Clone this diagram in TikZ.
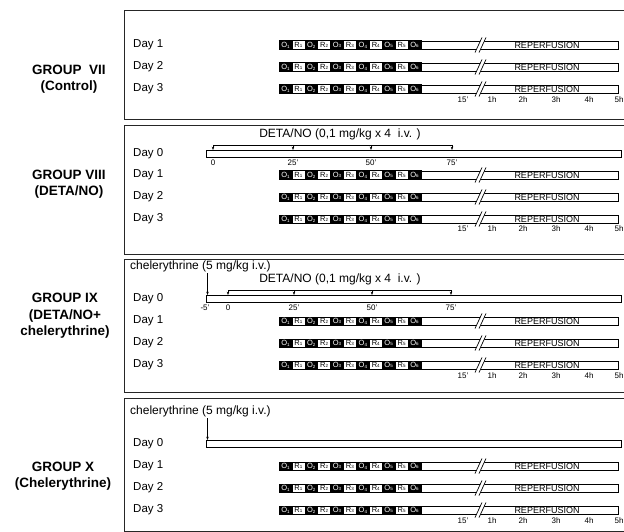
\documentclass[tikz,border=0pt]{standalone}
\usepackage{fontspec}
\setmainfont{Liberation Sans}
\usetikzlibrary{arrows.meta}
\tikzset{
 panel/.style={draw=black!85, line width=0.9pt},
 daylab/.style={anchor=west, font=\fontsize{11.5}{12}\selectfont, inner sep=0pt},
 grouplab/.style={align=center, font=\bfseries\fontsize{13.5}{16.5}\selectfont, inner sep=0pt},
 cellbase/.style={draw=black, minimum width=12.9pt, minimum height=8.5pt, inner sep=0pt, line width=0.5pt, font=\fontsize{7.5}{7}\selectfont},
 ocell/.style={cellbase, fill=black, text=white},
 rcell/.style={cellbase, fill=white, text=black},
 barbox/.style={draw, line width=0.8pt, minimum height=8pt, inner sep=0pt, anchor=west},
 reptext/.style={font=\fontsize{9}{9}\selectfont, inner sep=0pt},
 ticklab/.style={font=\fontsize{8}{8}\selectfont, inner sep=0pt},
 doselab/.style={font=\fontsize{12}{12}\selectfont, inner sep=0pt},
 dosearrow/.style={-{Stealth[length=3.5pt,width=2.5pt]}, line width=0.6pt},
 breakline/.style={line width=0.7pt},
}
\newcommand\cellsub[1]{\raisebox{-0.8pt}{\fontsize{4.5}{4}\selectfont #1}}
\newcommand\orrow[2]{%
 \foreach \i in {0,...,10}{%
   \pgfmathsetmacro\cx{279+6.45+\i*12.9}
   \ifodd\i
     \pgfmathtruncatemacro\k{(\i+1)/2}
     \node[rcell] (#2c\i) at (\cx,#1) {R\cellsub{\k}};
   \else
     \pgfmathtruncatemacro\k{\i/2+1}
     \node[ocell] (#2c\i) at (\cx,#1) {O\cellsub{\k}};
   \fi
 }
 \node[barbox, minimum width=197pt] (#2bar) at (#2c10.east) {};
 \pgfmathsetmacro\ya{#1+7.5}\pgfmathsetmacro\yb{#1-7.5}
 \fill[white] (475,\ya) -- (482,\yb) -- (486,\yb) -- (479,\ya) -- cycle;
 \draw[breakline] (475,\ya) -- (482,\yb) (479,\ya) -- (486,\yb);
 \node[reptext] (#2rep) at (547,#1) {REPERFUSION};
}
\newcommand\timeticks[2]{%
 \node[ticklab] (#2t15) at (463,#1) {15'};
 \node[ticklab] (#2t1) at (492,#1) {1h};
 \node[ticklab] (#2t2) at (523,#1) {2h};
 \node[ticklab] (#2t3) at (556,#1) {3h};
 \node[ticklab] (#2t4) at (589,#1) {4h};
 \node[ticklab] (#2t5) at (619,#1) {5h};
}
\begin{document}
\begin{tikzpicture}[x=1pt,y=-1pt]
\useasboundingbox (0,0) rectangle (624,532);
\clip (0,0) rectangle (624,532);
\fill[white] (0,0) rectangle (624,532);

% panels
\draw[panel] (630,10) -- (124,10) -- (124,119) -- (630,119);
\draw[panel] (630,125) -- (124,125) -- (124,254) -- (630,254);
\draw[panel] (630,259) -- (124,259) -- (124,392) -- (630,392);
\draw[panel] (630,398) -- (124,398) -- (124,531) -- (630,531);

% group labels
\node[grouplab] (g7) at (69,79) {GROUP\ \ VII\\(Control)};
\node[grouplab] (g8) at (69,184) {GROUP VIII\\(DETA/NO)};
\node[grouplab] (g9) at (65,316) {GROUP IX\\(DETA/NO+\\chelerythrine)};
\node[grouplab] (g10) at (63,476) {GROUP X\\(Chelerythrine)};

% ---------- panel 1
\node[daylab] (p1d1) at (133,45) {Day 1};
\node[daylab] (p1d2) at (133,67) {Day 2};
\node[daylab] (p1d3) at (133,89) {Day 3};
\orrow{45}{pa}
\orrow{67}{pb}
\orrow{89}{pc}
\timeticks{100}{pt}

% ---------- panel 2
\node[doselab] (dose2) at (340,134) {DETA/NO (0,1 mg/kg x 4\ \ i.v. )};
\node[daylab] (q1d0) at (133,154) {Day 0};
\node[daylab] (q1d1) at (133,175) {Day 1};
\node[daylab] (q1d2) at (133,197) {Day 2};
\node[daylab] (q1d3) at (133,219) {Day 3};
\node[barbox, minimum width=415pt, minimum height=7pt] (qbar0) at (206,154) {};
\coordinate (qb) at (213,145);
\coordinate (qe) at (452,145);
\draw[line width=0.6pt] (qb) -- (qe);
\draw[dosearrow] (qb) -- (qbar0.north -| qb);
\draw[dosearrow] (293,145) -- (qbar0.north -| 293,0);
\draw[dosearrow] (371,145) -- (qbar0.north -| 371,0);
\draw[dosearrow] (qe) -- (qbar0.north -| qe);
\node[ticklab] (q0) at (213,163) {0};
\node[ticklab] (q25) at (293,163) {25'};
\node[ticklab] (q50) at (371,163) {50'};
\node[ticklab] (q75) at (452,163) {75'};
\orrow{175}{qa}
\orrow{197}{qb}
\orrow{219}{qc}
\timeticks{229}{qt}

% ---------- panel 3
\node[doselab, anchor=west] (chel3) at (130,266) {chelerythrine (5 mg/kg i.v.)};
\node[doselab] (dose3) at (340,279) {DETA/NO (0,1 mg/kg x 4\ \ i.v. )};
\node[daylab] (r1d0) at (133,299) {Day 0};
\node[daylab] (r1d1) at (133,321) {Day 1};
\node[daylab] (r1d2) at (133,343) {Day 2};
\node[daylab] (r1d3) at (133,365) {Day 3};
\node[barbox, minimum width=415pt, minimum height=7pt] (rbar0) at (206,299) {};
\coordinate (rch) at (207.5,273);
\draw[dosearrow] (rch) -- (rbar0.north -| rch);
\coordinate (rb) at (228,290);
\coordinate (re) at (451,290);
\draw[line width=0.6pt] (rb) -- (re);
\draw[dosearrow] (rb) -- (rbar0.north -| rb);
\draw[dosearrow] (294,290) -- (rbar0.north -| 294,0);
\draw[dosearrow] (372,290) -- (rbar0.north -| 372,0);
\draw[dosearrow] (re) -- (rbar0.north -| re);
\node[ticklab] (rm5) at (205,308) {-5'};
\node[ticklab] (r0) at (228,308) {0};
\node[ticklab] (r25) at (294,308) {25'};
\node[ticklab] (r50) at (372,308) {50'};
\node[ticklab] (r75) at (451,308) {75'};
\orrow{321}{ra}
\orrow{343}{rb}
\orrow{365}{rc}
\timeticks{376}{rt}

% ---------- panel 4
\node[doselab, anchor=west] (chel4) at (130,411) {chelerythrine (5 mg/kg i.v.)};
\node[daylab] (s1d0) at (133,444) {Day 0};
\node[daylab] (s1d1) at (133,466) {Day 1};
\node[daylab] (s1d2) at (133,488) {Day 2};
\node[daylab] (s1d3) at (133,510) {Day 3};
\node[barbox, minimum width=415pt, minimum height=7pt] (sbar0) at (206,444) {};
\coordinate (sch) at (207.5,418);
\draw[dosearrow] (sch) -- (sbar0.north -| sch);
\orrow{466}{sa}
\orrow{488}{sb}
\orrow{510}{sc}
\timeticks{521}{st}
\end{tikzpicture}
\end{document}
